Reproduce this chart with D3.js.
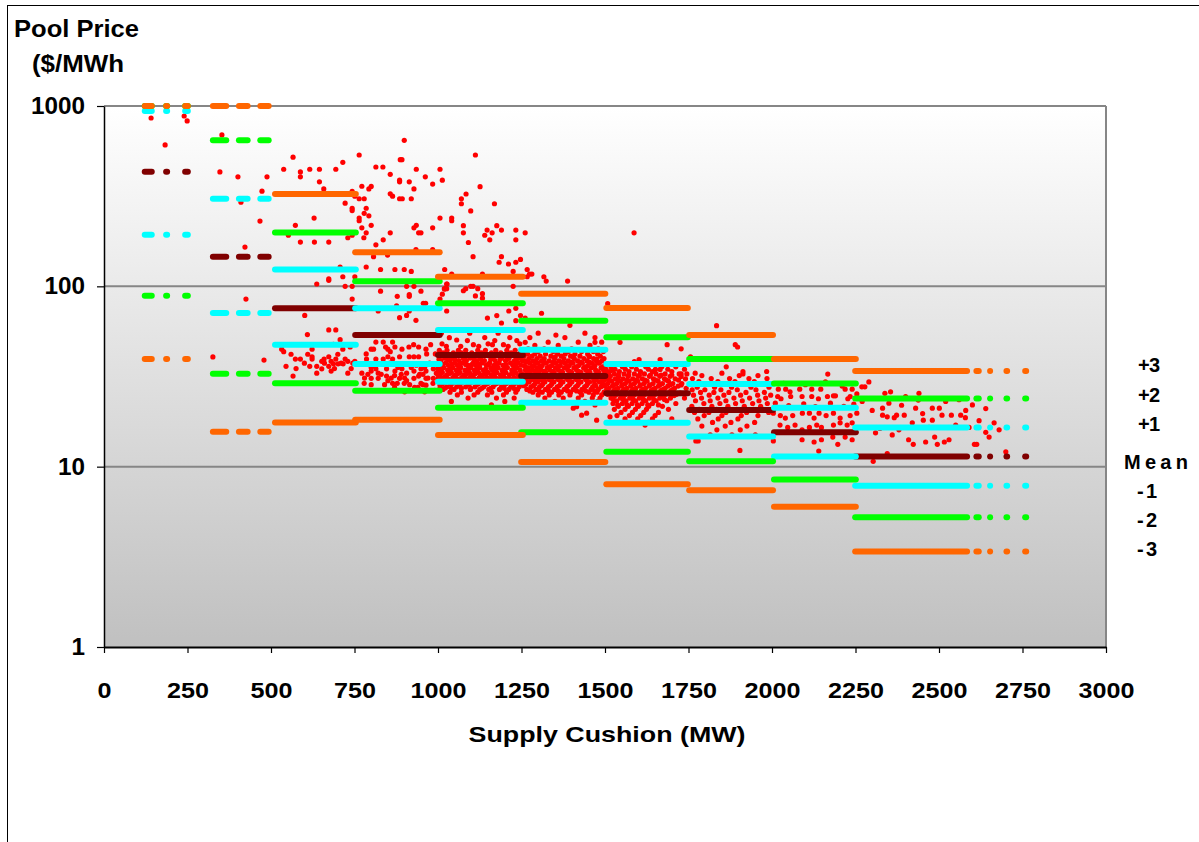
<!DOCTYPE html>
<html><head><meta charset="utf-8">
<script src="https://cdn.jsdelivr.net/npm/d3@7"></script>
<style>
body{margin:0;background:#fff}
svg{display:block}
text{font-family:Arial,"Liberation Sans",sans-serif;font-weight:bold;fill:#000}
</style>
</head><body>
<svg id="chart" width="1199" height="842"></svg>
<script>
// ---------------- DATA ----------------
const xTicks = [0,250,500,750,1000,1250,1500,1750,2000,2250,2500,2750,3000];
const yTicks = [1,10,100,1000];
const gridValues = [10,100,1000];
const bandLabels = ["+3","+2","+1","Mean","-1","-2","-3"];

// supply-cushion extents (MW) covered by each bin's statistic markers
const binRuns = [
  [[113,152],[177,198],[234,260]],
  [[317,375],[395,439],[459,502]],
  [[503,763]],
  [[743,1014]],
  [[991,1263]],
  [[1240,1510]],
  [[1495,1757]],
  [[1743,2012]],
  [[1997,2260]],
  [[2240,2593],[2603,2628],[2644,2662],[2693,2713],[2749,2770]]
];
// statistic levels per bin ($/MWh)
const plus3     = [999.99,999.99,325,154.5,113,91.0,75.8,53.8,39.5,33.9];
const plus2     = [999.99,645,199,106.6,80.5,64.5,52.2,39.5,28.9,23.9];
const plus1     = [938,306,124,75.5,57.3,44.5,37.1,28.7,21.2,16.5];
const meanPrice = [432,146,75.5,53.8,41.6,31.8,25.5,20.6,15.5,11.4];
const minus1    = [193,71.1,47.5,37.1,29.6,22.6,17.5,14.7,11.4,7.85];
const minus2    = [88.8,32.8,29.0,26.4,21.2,15.5,12.1,10.7,8.5,5.24];
const minus3    = [39.5,15.6,17.6,18.2,15.0,10.6,8.0,7.4,6.0,3.38];

// hourly pool price vs supply cushion [MW, $/MWh]
const pricePoints = [
[141,858],[240,880],[249,826],[183,608],[353,691],[347,431],[401,405],[488,405],[473,337],[410,293],[467,230],[422,165],[425,85],[326,40.6],[479,39],
[899,645],[566,520],[764,535],[715,487],[538,446],[588,431],[588,405],[616,446],[645,446],[694,446],[645,380],[658,347],[814,459],[835,459],[887,504],[892,504],[857,418],[885,388],[885,380],[914,380],[935,446],[962,405],[984,369],[1006,446],[1013,388],[928,347],[772,359],[793,347],[800,358],[743,336],[751,316],[764,306],[779,306],[857,326],[864,316],[885,306],[893,306],[920,306],[722,289],[743,271],[743,263],[785,271],[779,254],[793,246],[764,239],[764,231],[629,239],[573,218],[772,211],[800,218],[785,198],[730,186],[743,192],[778,186],[857,198],[928,211],[935,218],[942,198],[949,198],[984,211],[1006,239],[588,176],[630,176],[673,176],[552,192],[836,181],[814,170],[849,149],[807,146],[934,160],[984,160],[707,128],[785,128],[828,124],[871,124],[899,124],[920,121],[1020,124],[673,110],[715,113],[751,113],
[637,103],[673,108],[722,100],[743,100],[828,94],[743,85],[878,88],[914,90],[914,88],[949,94],[906,100],[928,100],[876,78],[956,80.5],[963,80.5],[1013,90.5],[1020,96.5],[1027,103],[1006,85],[821,73],[885,67],[906,69],[914,73],[934,64.8],[601,69],[609,54],[673,57.3],[694,57.3],[707,50.6],[532,44.8],[538,43.4],[623,44.8],[687,47.7],[715,44.8],[737,46.1],
[573,39.5],[588,39.5],[623,40.7],[623,39.5],[652,38.4],[659,39.5],[673,40.7],[680,38.4],[694,39.5],[701,37.2],[722,39.5],[730,38.4],[751,38.4],[545,36],[616,36],[637,36],[652,34.9],[673,36],[687,37.2],[716,37.2],[637,33],[680,33.9],[566,31.8],[730,33],
[814,49.1],[836,49.1],[864,49.1],[800,44.8],[807,44.8],[843,46.1],[850,44.8],[857,43.4],[871,46.1],[892,44.8],[913,46.1],[927,47.5],[942,46.1],[964,44.8],[978,47.5],[785,42.2],[786,39.5],[814,39.5],[836,39.5],[850,40.7],[864,39.5],[885,40.7],[914,40.7],[928,40.7],[942,40.7],[966,42.2],[992,42.2],
[772,33],[800,33.9],[814,34.9],[821,33],[800,30.9],[821,30.9],[846,31.8],[846,34.9],[871,33.9],[892,34.9],[906,33],[928,33.9],[949,34.9],[964,33.9],[986,34.9],[999,34.9],[885,30.9],[906,30],[928,30.9],[942,31.8],[964,30.9],[986,30.9],[1006,31.8],[779,29],[850,30],[864,29],[878,29],[899,29],[949,29],[964,28.3],[985,29],[1006,28.3],[1021,27.3],
[812,36],[856,37.5],[897,37],[935,36.5],[975,37.5],[830,32.5],[870,32],[955,32.5],[995,33],[1000,30],[990,26.5],[940,27.5],[800,35.5],[880,35.5],[920,35.5],[960,35.5],[790,32.5],[890,32.5],[945,32.5],[780,31],[860,31],[900,31],[970,31],[800,28.5],[840,28.5],[915,28.5],[955,28.5],[870,27.5],[930,27.5],[900,26],[960,26],[560,42],[610,42],[700,42],[600,37.5],[660,37.5],[710,37.5],[745,37.5],[575,35],[690,35],[740,35],
[1112,535],[1126,357],[1084,325],[1070,306],[1070,287],[1169,287],[1098,262],[1041,239],[1041,231],[1076,217],[1076,198],[1176,217],[1147,205],[1140,192],[1162,198],[1190,205],[1233,205],[1261,198],[1155,181],[1233,181],[1091,175],[1105,146],[1190,146],[1183,136],[1211,133],[1233,136],[1247,141],[1225,121],[1267,124],[1041,117],[1133,117],[1267,113],[1274,117],[1281,117],[1317,113],[1324,107],[1388,107],[1026,103],[1019,97],[1026,97],[1225,100],[1098,100],[1105,100],[1076,94.5],[1083,97],[1119,97],[1112,88.5],[1133,91],[1133,86],
[1026,73],[1148,66.7],[1176,68.8],[1190,62.6],[1212,73],[1233,75.5],[1247,68.8],[1233,64.5],[1261,66.7],[1310,70.9],[1395,60.8],[1508,80.1],[1353,53.7],[1261,48.9],[1034,51.9],[1056,50.4],[1106,47.5],[1163,47.5],[1196,47.5],[1470,48.9],[1405,40.7],[1453,40.7],[1475,39.5],[1523,34.4],[1351,40.7],[1415,21.5],[1445,19.8],[1475,18.1],[1515,18.9],[1405,21.1],[1430,19.3],[1587,198],
[1545,48.9],[1686,47.5],[1728,45],[1602,39.3],[1665,39.3],[1588,38.2],[1756,40.7],[1651,34.6],[1665,34.6],[1680,32.7],[1728,32.7],[1728,31.6],
[1863,35.8],[1834,60.5],[1890,47.5],[1897,46.1],[1913,33.7],[1913,32.7],[1984,33.7],[1772,13.9],[1779,13.9],[1904,12.3],
[2019,26.9],[2041,26.9],[2054,26.0],[2083,26.9],[2119,26.9],[2146,26.9],[2184,24.7],[2190,24.7],[2219,26.9],[2240,26.9],[2017,24.5],[2027,23.8],[2056,24.5],[2090,24.5],[2119,24.5],[2139,23.8],[2166,24.5],[2227,23.8],[2234,24.5],[2254,25.3],
[2004,19.8],[2025,19.2],[2040,18.6],[2062,19.2],[2091,19.8],[2112,19.8],[2126,18.6],[2141,19.8],[2162,19.2],[2184,19.8],[2204,18.6],[2234,19.2],[2254,19.8],
[2024,17.0],[2047,16.5],[2069,17.0],[2090,16.0],[2112,16.5],[2134,17.0],[2148,16.5],[2184,17.0],[2204,17.5],[2225,17.0],[2240,17.5],
[2090,14.1],[2126,13.7],[2148,14.1],[2182,14.6],[2197,13.3],[2219,14.6],[2240,14.1],[2140,12.2],[2004,13.9],[2167,32.6],
[2010,22.5],[2050,21.8],[2095,22.3],[2130,21.5],[2175,22.5],[2215,21.6],[2245,22.2],[2035,29],[2100,28.5],[2160,29.5],[2210,28],
[2278,27.7],[2269,27.7],[2338,25.5],[2331,21.1],[2331,19.3],[2388,21.9],[2430,21.1],[2438,23.4],[2480,21.1],[2501,21.1],[2537,19.3],[2565,19.3],[2579,18.7],[2453,18.1],[2480,18.1],[2509,19.3],[2345,18.9],[2366,18.7],[2373,19.3],[2323,16.3],[2396,19.3],[2451,19.7],[2310,15.4],[2360,15.0],[2409,14.1],[2423,13.3],[2460,13.7],[2487,14.6],[2495,13.3],[2516,13.7],[2530,14.1],[2613,13.3],[2606,13.3],[2650,14.6],[2700,12.1],[2303,10.7],[2345,11.8],
[2290,29.5],[2355,26],[2400,24.5],[2440,25.5],[2520,23],[2560,23.5],[2600,22],[2640,21],[2580,20.5],[2620,18],[2665,17.5],[2680,16],[2640,15.5],[2590,16.5],[2550,17],[2470,16.5],[2420,17.5],[2380,16],[2350,22.5],[2300,20.5],[2270,23]
];

// dense part of the cloud, read row by row: [$/MWh, [MW, ...]]
const denseRows = [
// 1000-1250 MW
[55,[1010,1095,1180]],[52,[1140,1215]],[50,[1088,1170,1236]],[48,[1012,1150,1245]],[46.5,[1025,1068,1122,1210]],
[44.2,[1004,1027,1061,1083,1119,1142,1173,1206,1231]],
[42.8,[1015,1046,1070,1101,1130,1160,1188,1219,1247]],
[41.3,[1002,1033,1054,1088,1112,1149,1177,1198,1236]],
[40.0,[1020,1041,1075,1096,1127,1164,1190,1213,1244]],
[39.4,[1003,1029,1050,1080,1108,1128,1158,1186,1208,1235]],
[38.8,[1009,1036,1062,1085,1117,1139,1171,1202,1229,1252]],
[37.6,[1024,1050,1073,1106,1133,1155,1183,1217,1240]],
[36.9,[1014,1042,1066,1083,1102,1124,1150,1176,1204,1232]],
[36.5,[1006,1031,1058,1091,1114,1145,1168,1195,1224,1249]],
[35.4,[1017,1044,1068,1098,1125,1158,1180,1208,1237]],
[34.8,[1010,1036,1062,1090,1116,1143,1170,1198,1228]],
[34.3,[1003,1029,1055,1081,1109,1136,1163,1192,1221,1246]],
[33.3,[1013,1040,1066,1094,1121,1150,1176,1203,1232]],
[32.8,[1005,1033,1059,1086,1111,1140,1168,1195,1222,1250]],
[32.3,[1000,1026,1052,1078,1104,1131,1159,1187,1214,1241]],
[31.3,[1018,1045,1071,1096,1124,1146,1172,1199,1228,1253]],
[30.9,[1001,1027,1055,1083,1108,1135,1160,1186,1212,1240]],
[30.4,[1008,1034,1060,1087,1113,1140,1166,1193,1219,1245]],
[29.5,[1022,1049,1074,1102,1129,1155,1182,1210,1236]],
[29.0,[1015,1043,1069,1096,1123,1150,1177,1205,1231]],
[28.6,[1011,1038,1064,1091,1118,1144,1171,1201,1226,1250]],
[27.7,[1027,1056,1083,1111,1137,1165,1190,1218,1243]],
[27.2,[1006,1040,1070,1098,1131,1158,1198,1227]],
[26.8,[1015,1048,1097,1125,1152,1184,1212,1238]],
[25.9,[1036,1070,1119,1161,1205,1233]],
[25.0,[1058,1108,1148,1196]],[24.0,[1090,1175,1228]],[23,[1040,1200]],[22,[1160]],
// 1250-1500 MW
[55,[1300,1440]],[52,[1275,1380,1470]],[49,[1330,1420,1490]],[47,[1290,1360,1455]],[45,[1270,1318,1400,1480]],
[43.5,[1256,1300,1345,1390,1430,1465,1495]],
[42.2,[1268,1290,1322,1358,1381,1410,1448,1478]],
[41.0,[1257,1281,1306,1338,1369,1397,1425,1453,1486]],
[39.8,[1272,1296,1318,1349,1377,1408,1437,1466,1497]],
[38.6,[1260,1284,1310,1333,1362,1390,1418,1446,1474,1491]],
[38.0,[1265,1292,1318,1345,1370,1398,1426,1453,1479]],
[37.5,[1275,1299,1324,1353,1381,1404,1432,1461,1483]],
[36.4,[1258,1287,1312,1340,1366,1393,1421,1449,1470,1500]],
[35.8,[1262,1282,1305,1333,1360,1386,1414,1441,1467,1494]],
[35.3,[1270,1296,1327,1352,1378,1407,1436,1458,1488]],
[34.3,[1262,1283,1309,1335,1361,1389,1415,1443,1472,1496]],
[33.8,[1266,1292,1318,1343,1368,1395,1421,1449,1476,1500]],
[33.3,[1276,1301,1322,1348,1373,1400,1428,1455,1481]],
[32.3,[1255,1288,1314,1341,1366,1392,1419,1446,1469,1494]],
[31.8,[1260,1282,1306,1334,1360,1388,1413,1450,1475,1499]],
[31.3,[1267,1297,1327,1355,1381,1409,1437,1461,1487]],
[30.4,[1258,1280,1307,1333,1360,1388,1414,1442,1474,1499]],
[29.9,[1265,1292,1317,1341,1367,1394,1421,1447,1468,1493]],
[29.5,[1273,1299,1320,1347,1374,1401,1428,1454,1483]],
[28.6,[1263,1289,1313,1340,1367,1395,1420,1447,1469,1492]],
[28.1,[1256,1285,1310,1336,1363,1390,1417,1444,1472,1497]],
[27.7,[1278,1304,1331,1357,1386,1412,1439,1463,1488]],
[26.8,[1266,1293,1322,1349,1378,1405,1431,1458,1480]],
[26.3,[1275,1302,1331,1360,1388,1415,1442,1469]],
[25.9,[1284,1312,1340,1369,1397,1426,1452,1476,1497]],
[25.0,[1300,1333,1362,1395,1430,1465,1490]],
[24.0,[1320,1375,1420,1462,1485]],[23.0,[1350,1440,1478]],[22,[1470]],
// 1500-1750 MW
[37.0,[1505,1540,1598,1655]],
[35.8,[1518,1552,1580,1622,1670,1712]],
[34.7,[1503,1530,1561,1594,1630,1688,1738]],
[33.7,[1514,1543,1572,1606,1642,1700]],
[32.7,[1502,1528,1557,1588,1618,1653,1722,1745]],
[32.2,[1509,1540,1571,1603,1636,1668,1700]],
[31.7,[1516,1541,1569,1600,1633,1664,1695]],
[30.7,[1505,1531,1554,1583,1612,1645,1678,1710,1741]],
[30.2,[1512,1540,1566,1592,1620,1652,1684,1720]],
[29.8,[1520,1546,1572,1598,1626,1659,1690]],
[28.9,[1508,1535,1561,1588,1617,1644,1672,1703,1730]],
[28.4,[1500,1526,1551,1578,1606,1635,1664,1695,1728]],
[28.0,[1522,1550,1577,1604,1632,1660,1688,1719]],
[27.2,[1511,1538,1565,1592,1621,1650,1680,1708,1743]],
[26.8,[1505,1532,1559,1586,1615,1644,1674,1704]],
[26.4,[1526,1553,1580,1609,1638,1667,1697]],
[25.6,[1514,1541,1568,1596,1625,1655,1688,1725]],
[25.2,[1508,1534,1562,1590,1620,1650,1682,1714]],
[24.8,[1530,1557,1585,1614,1644,1675,1707]],
[24.0,[1518,1546,1574,1603,1633,1664,1696,1738]],
[23.6,[1525,1555,1584,1615,1646,1678]],
[23.2,[1535,1563,1592,1622,1653,1685]],
[22.4,[1524,1552,1581,1611,1642,1712]],
[22.0,[1538,1566,1597,1628,1660]],
[21.6,[1540,1570,1600,1631,1672]],
[20.8,[1528,1560,1591,1624,1690]],
[20.0,[1548,1582,1616,1660]],
[19.2,[1536,1573,1607,1650]],
[18.4,[1560,1598,1642,1700]],
[17.6,[1585,1630]],[17,[1620]],
// 1750-2000 MW
[33,[1770,1850]],[32,[1790,1902,1958]],
[30.8,[1762,1818,1873,1931,1985]],
[29.6,[1781,1838,1889,1947]],
[28.6,[1757,1806,1853,1912,1968]],
[27.6,[1776,1828,1879,1937,1991]],
[26.7,[1761,1799,1847,1896,1952]],
[25.8,[1786,1826,1871,1922,1977]],
[24.9,[1765,1812,1856,1906,1957,1996]],
[24.0,[1789,1838,1886,1933,1981]],
[23.2,[1771,1815,1862,1911,1961]],
[22.4,[1796,1844,1891,1942,1986]],
[21.6,[1760,1820,1868,1917,1966]],
[20.8,[1782,1834,1894,1944]],
[20.0,[1768,1811,1862,1924,1990]],
[19.2,[1797,1850,1908,1958]],
[18.4,[1778,1839,1898]],
[17.6,[1822,1877,1948]],
[16.8,[1790,1860,1925]],
[16,[1835,1905]],[15,[1815,1880,1950]]
];

// ---------------- CHART ----------------
const svg = d3.select("#chart");
const x = d3.scaleLinear().domain([0,3000]).range([104,1106]);
const y = d3.scaleLog().domain([1,1000]).range([647,106]);

// outer frame
svg.append("rect").attr("x",7.5).attr("y",5.5).attr("width",1300).attr("height",900)
  .attr("fill","#fff").attr("stroke","#000").attr("stroke-width",1);

// plot background gradient
const defs = svg.append("defs");
const grad = defs.append("linearGradient").attr("id","bg").attr("x1",0).attr("y1",0).attr("x2",0).attr("y2",1);
grad.append("stop").attr("offset","0%").attr("stop-color","#ffffff");
grad.append("stop").attr("offset","100%").attr("stop-color","#c0c0c0");
svg.append("rect").attr("x",x(0)).attr("y",y(1000)).attr("width",x(3000)-x(0)).attr("height",y(1)-y(1000))
  .attr("fill","url(#bg)");

// gridlines
svg.append("g").selectAll("line").data(gridValues).join("line")
  .attr("x1",x(0)).attr("x2",x(3000)).attr("y1",d=>y(d)).attr("y2",d=>y(d))
  .attr("stroke","#868686").attr("stroke-width",2);
svg.append("line").attr("x1",x(3000)).attr("x2",x(3000)).attr("y1",y(1000)).attr("y2",y(1))
  .attr("stroke","#868686").attr("stroke-width",2);

// scatter points
const allPoints = pricePoints.concat(denseRows.flatMap(([p,arr])=>arr.map(m=>[m,p])));
svg.append("g").selectAll("circle").data(allPoints).join("circle")
  .attr("cx",d=>x(d[0])).attr("cy",d=>y(d[1])).attr("r",2.6).attr("fill","#ff0000");

// statistic bands (drawn in Excel series order)
const bands = [
  {vals:meanPrice,color:"#800000"},
  {vals:minus1,color:"#00ffff"},
  {vals:plus1,color:"#00ffff"},
  {vals:minus2,color:"#00ff00"},
  {vals:plus2,color:"#00ff00"},
  {vals:minus3,color:"#ff6600"},
  {vals:plus3,color:"#ff6600"}
];
const segs = [];
bands.forEach(b=>{
  binRuns.forEach((runs,i)=>{
    const v=b.vals[i];
    if(v==null) return;
    runs.forEach(r=>segs.push({x0:r[0],x1:r[1],v:v,color:b.color}));
  });
});
const cap=3;
svg.append("g").selectAll("line").data(segs).join("line")
  .attr("x1",d=>x(d.x0)+cap).attr("x2",d=>Math.max(x(d.x1)-cap,x(d.x0)+cap))
  .attr("y1",d=>y(d.v)).attr("y2",d=>y(d.v))
  .attr("stroke",d=>d.color).attr("stroke-width",6).attr("stroke-linecap","round");

// axes
const yAxis = svg.append("g").attr("transform",`translate(${x(0)},0)`)
  .call(d3.axisLeft(y).tickValues(yTicks).tickFormat(d3.format("d")).tickSize(7).tickSizeOuter(0).tickPadding(12));
yAxis.select(".domain").attr("stroke","#000").attr("stroke-width",1.5);
yAxis.selectAll(".tick line").attr("stroke","#000").attr("stroke-width",1.2);
yAxis.selectAll("text").attr("font-size",23).attr("font-family","Arial, 'Liberation Sans', sans-serif")
  .attr("font-weight","bold").attr("fill","#000")
  .attr("textLength",d=>String(d).length*13.5).attr("lengthAdjust","spacingAndGlyphs");

const xAxis = svg.append("g").attr("transform",`translate(0,${y(1)})`)
  .call(d3.axisBottom(x).tickValues(xTicks).tickFormat(d3.format("d")).tickSize(6).tickSizeOuter(0).tickPadding(29));
xAxis.select(".domain").attr("stroke","#000").attr("stroke-width",2);
xAxis.selectAll(".tick line").attr("stroke","#000").attr("stroke-width",1.2);
xAxis.selectAll("text").attr("font-size",22).attr("font-family","Arial, 'Liberation Sans', sans-serif")
  .attr("font-weight","bold").attr("fill","#000")
  .attr("textLength",d=>String(d).length*14).attr("lengthAdjust","spacingAndGlyphs");

// titles
svg.append("text").attr("x",14).attr("y",37).attr("font-size",23)
  .attr("textLength",125).attr("lengthAdjust","spacingAndGlyphs").text("Pool Price");
svg.append("text").attr("x",32).attr("y",72).attr("font-size",23)
  .attr("textLength",92).attr("lengthAdjust","spacingAndGlyphs").text("($/MWh");
svg.append("text").attr("x",607).attr("y",742).attr("font-size",22).attr("text-anchor","middle")
  .attr("textLength",277).attr("lengthAdjust","spacingAndGlyphs").text("Supply Cushion (MW)");

// band labels on the right
const labelLayout = [
  {x:1138,y:372,w:22},{x:1138,y:402,w:22},{x:1138,y:431,w:22},
  {x:1124,y:469,w:64},{x:1137,y:498,w:20},{x:1137,y:527,w:20},{x:1137,y:556,w:20}
];
svg.append("g").selectAll("text").data(bandLabels).join("text")
  .attr("x",(d,i)=>labelLayout[i].x).attr("y",(d,i)=>labelLayout[i].y)
  .attr("font-size",20).attr("textLength",(d,i)=>labelLayout[i].w).attr("lengthAdjust","spacing")
  .text(d=>d);
</script>
</body></html>
